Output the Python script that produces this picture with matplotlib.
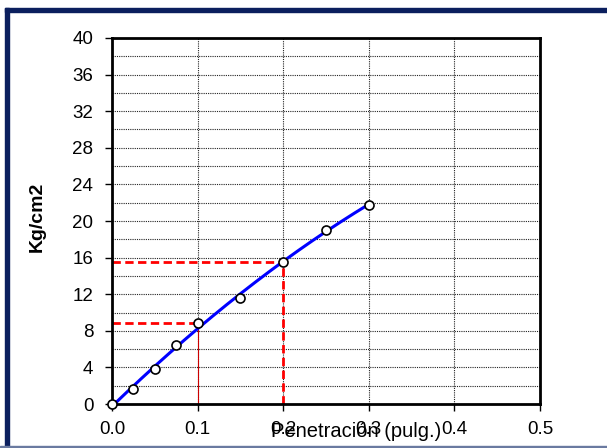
import numpy as np
import matplotlib
matplotlib.use("Agg")
import matplotlib.pyplot as plt
from matplotlib.patches import Rectangle

plt.rcParams['font.family'] = ['Liberation Sans', 'DejaVu Sans']

# Penetration test readings
penetracion = [0.0, 0.025, 0.05, 0.075, 0.1, 0.15, 0.2, 0.25, 0.3]
presion = [0.0, 1.6, 3.8, 6.4, 8.9, 11.6, 15.5, 19.0, 21.8]

# Reference readings at 0.1" and 0.2"
ref_x = [0.1, 0.2]
ref_y = [8.9, 15.5]

x_ticks = [0.0, 0.1, 0.2, 0.3, 0.4, 0.5]
y_ticks = [0, 4, 8, 12, 16, 20, 24, 28, 32, 36, 40]

fig = plt.figure(figsize=(6.07, 4.48), dpi=100)
W, H = 607, 448

# navy frame around the chart
navy = '#0b1f5e'
fig.patches.append(Rectangle((5 / W, 0), 4 / W, 1 - 8 / H, transform=fig.transFigure,
                             color=navy, zorder=0))
fig.patches.append(Rectangle((5 / W, 1 - 12 / H), 1, 4 / H, transform=fig.transFigure,
                             color=navy, zorder=0))
fig.patches.append(Rectangle((0, 0), 1, 2 / H, transform=fig.transFigure,
                             color='#6a7aa0', zorder=0))

ax = fig.add_axes([112 / W, 1 - 404 / H, (540 - 112) / W, (404 - 38) / H])
ax.set_xlim(0, 0.5)
ax.set_ylim(0, 40)
ax.set_xticks(x_ticks)
ax.set_xticklabels([f"{v:.1f}" for v in x_ticks])
ax.set_yticks(y_ticks)
ax.set_yticks(np.arange(0, 41, 2), minor=True)
ax.tick_params(axis='both', which='major', labelsize=13.5, length=5, width=1, direction='out')
ax.tick_params(axis='y', which='major', pad=8.5)
ax.tick_params(axis='x', which='major', pad=7.5)
ax.tick_params(axis='y', which='minor', length=0)

ax.grid(True, which='major', axis='x', color='#222222', linestyle=(0, (1, 1)), linewidth=0.8)
ax.grid(True, which='both', axis='y', color='#222222', linestyle=(0, (1, 1)), linewidth=0.8)
ax.set_axisbelow(True)

for s in ax.spines.values():
    s.set_linewidth(2)
    s.set_color('black')

# polynomial trend through the readings
coef = np.polyfit(penetracion, presion, 2)
xs = np.linspace(0, max(penetracion), 200)
ax.plot(xs, np.polyval(coef, xs), color='#0000ff', linewidth=2.2, zorder=3)

# reference guides
dash = (0, (3, 1.6))
ax.plot([0, ref_x[0]], [ref_y[0], ref_y[0]], color='red', linewidth=2, linestyle=dash, zorder=2)
ax.plot([ref_x[0], ref_x[0]], [0, ref_y[0]], color='#cc0000', linewidth=0.8, zorder=2)
ax.plot([0, ref_x[1]], [ref_y[1], ref_y[1]], color='red', linewidth=2, linestyle=dash, zorder=2)
ax.plot([ref_x[1], ref_x[1]], [0, ref_y[1]], color='red', linewidth=2, linestyle=dash, zorder=2)

ax.plot(penetracion, presion, linestyle='none', marker='o', markersize=6.5,
        markerfacecolor='white', markeredgecolor='black', markeredgewidth=1.2, zorder=4,
        clip_on=False)

fig.text(37 / W, 1 - 217 / H, 'Kg/cm2', fontsize=14, fontweight='bold',
         rotation=90, ha='center', va='center')
fig.text(356 / W, 1 - 437 / H, 'Penetración (pulg.)', fontsize=14.5, ha='center', va='baseline')

fig.savefig('out.png', dpi=100)
